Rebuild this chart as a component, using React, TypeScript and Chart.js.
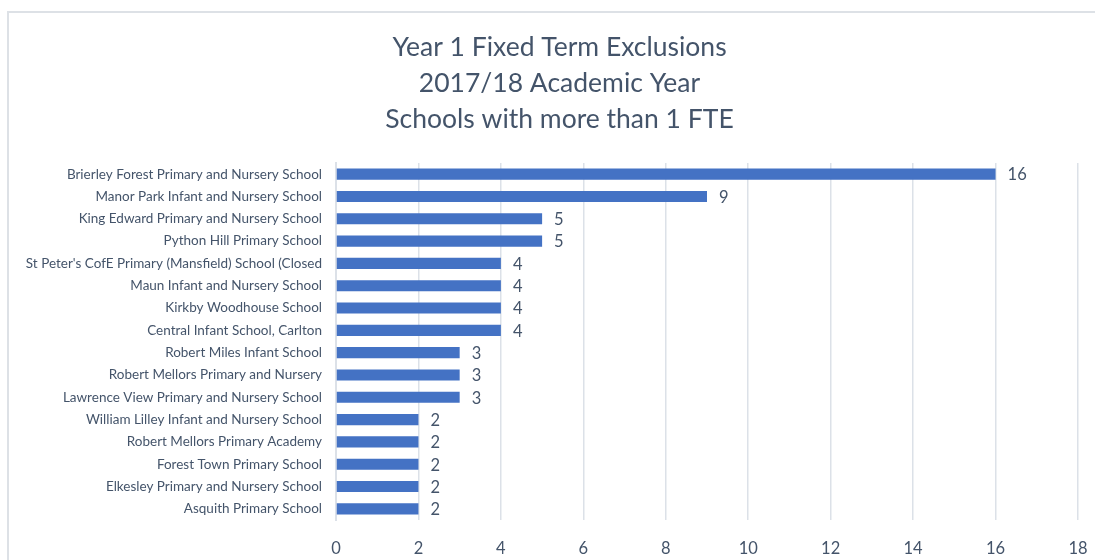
import React, { useEffect, useRef } from "react";
import { Chart, registerables } from "chart.js";

Chart.register(...registerables);

const schools: string[] = [
  "Brierley Forest Primary and Nursery School",
  "Manor Park Infant and Nursery School",
  "King Edward Primary and Nursery School",
  "Python Hill Primary School",
  "St Peter's CofE Primary (Mansfield) School (Closed",
  "Maun Infant and Nursery School",
  "Kirkby Woodhouse School",
  "Central Infant School, Carlton",
  "Robert Miles Infant School",
  "Robert Mellors Primary and Nursery",
  "Lawrence View Primary and Nursery School",
  "William Lilley Infant and Nursery School",
  "Robert Mellors Primary Academy",
  "Forest Town Primary School",
  "Elkesley Primary and Nursery School",
  "Asquith Primary School",
];

const exclusions: number[] = [16, 9, 5, 5, 4, 4, 4, 4, 3, 3, 3, 2, 2, 2, 2, 2];

const titleLines: string[] = [
  "Year 1 Fixed Term Exclusions",
  "2017/18 Academic Year",
  "Schools with more than 1 FTE",
];

const TEXT = "#44546a";
const FONT = "Lato, 'Open Sans', sans-serif";
const TITLE_SIZE = 26.5;
const TITLE_LINE = 36;
const TITLE_PAD_TOP = 29;

const valueLabels = {
  id: "valueLabels",
  afterDatasetsDraw(chart: any) {
    const ctx = chart.ctx;
    const meta = chart.getDatasetMeta(0);
    ctx.save();
    ctx.font = `16.5px ${FONT}`;
    ctx.fillStyle = TEXT;
    ctx.textAlign = "left";
    ctx.textBaseline = "middle";
    meta.data.forEach((bar: any, i: number) => {
      ctx.fillText(String(chart.data.datasets[0].data[i]), bar.x + 12, bar.y + 1);
    });
    ctx.restore();
  },
};

// Draws the (space-reserving, invisible) Chart.js title centred on the chart frame
const frameTitle = {
  id: "frameTitle",
  afterDraw(chart: any) {
    const ctx = chart.ctx;
    const block = chart.titleBlock;
    const top = block ? block.top : 0;
    const cx = chart.width / 2 + 12;
    ctx.save();
    ctx.font = `${TITLE_SIZE}px ${FONT}`;
    ctx.fillStyle = TEXT;
    ctx.textAlign = "center";
    ctx.textBaseline = "middle";
    titleLines.forEach((line, i) => {
      ctx.fillText(line, cx, top + TITLE_PAD_TOP + TITLE_LINE / 2 + i * TITLE_LINE);
    });
    ctx.restore();
  },
};

export default function App() {
  const ref = useRef<HTMLCanvasElement | null>(null);

  useEffect(() => {
    if (!ref.current) return;
    const chart = new Chart(ref.current, {
      type: "bar",
      data: {
        labels: schools,
        datasets: [
          {
            data: exclusions,
            backgroundColor: "#4472c4",
            borderWidth: 0,
            categoryPercentage: 1,
            barPercentage: 0.5,
          },
        ],
      },
      options: {
        indexAxis: "y",
        responsive: false,
        maintainAspectRatio: false,
        animation: false,
        layout: { padding: { top: 0, right: 17, bottom: 0, left: 0 } },
        plugins: {
          legend: { display: false },
          tooltip: { enabled: false },
          title: {
            display: true,
            text: titleLines,
            color: "rgba(0,0,0,0)",
            font: { family: FONT, size: TITLE_SIZE, weight: "normal", lineHeight: TITLE_LINE / TITLE_SIZE },
            padding: { top: TITLE_PAD_TOP, bottom: 26 },
          },
        },
        scales: {
          x: {
            min: 0,
            max: 18,
            ticks: {
              stepSize: 2,
              color: TEXT,
              font: { family: FONT, size: 16.5 },
              padding: 19,
            },
            grid: { color: "#dce1e8", lineWidth: 1.5, drawTicks: false },
            border: { display: false },
            afterFit: (scale: any) => {
              scale.height = 40;
              scale.paddingRight = 0;
              scale.paddingLeft = 0;
            },
          },
          y: {
            ticks: {
              color: TEXT,
              font: { family: FONT, size: 13.5 },
              padding: 14,
              autoSkip: false,
            },
            grid: { display: false, drawTicks: false },
            border: { display: true, color: "#dce1e8", width: 2 },
            afterFit: (scale: any) => {
              scale.width = 336;
            },
          },
        },
      },
      plugins: [valueLabels, frameTitle],
    });
    return () => chart.destroy();
  }, []);

  return (
    <div style={{ position: "fixed", inset: 0, overflow: "hidden", background: "#fff" }}>
      <div
        style={{
          position: "absolute",
          left: 7,
          top: 11,
          width: 1200,
          height: 700,
          border: "2px solid #dde1e6",
          boxSizing: "border-box",
        }}
      />
      <canvas
        ref={ref}
        width={1095}
        height={560}
        style={{ position: "absolute", left: 0, top: 0, width: 1095, height: 560 }}
      />
    </div>
  );
}
